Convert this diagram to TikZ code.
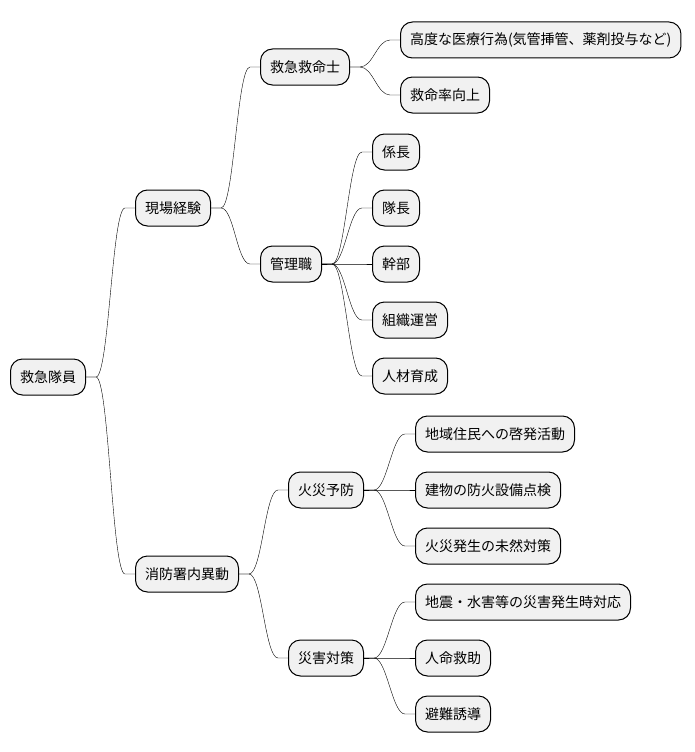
\documentclass[tikz,border=0pt]{standalone}
\usepackage{fontspec}
\setmainfont{Noto Sans CJK JP}
\usetikzlibrary{positioning}

\tikzset{
  mm/.style={draw, line width=1pt, fill={rgb,255:red,241;green,241;blue,241},
    rounded corners=12pt, minimum height=36pt, inner xsep=9.5pt, inner ysep=0pt,
    anchor=west, font=\fontsize{14pt}{16pt}\selectfont},
  link/.style={line width=1pt, to path={-- ++(10pt,0)
    .. controls +(13pt,0) and +(-13pt,0) .. ([xshift=-10pt]\tikztotarget)
    -- (\tikztotarget)}}
}

\begin{document}
\begin{tikzpicture}[x=1pt, y=-1pt]
  \useasboundingbox (0,0) rectangle (695,752);
  % 中心
  \node[mm] (r) at (10,377) {救急隊員};

  % 第一階層
  \node[mm] (k1) at (135,208) {現場経験};
  \node[mm] (k2) at (135,574) {消防署内異動};
  \draw (r.east) to[link] (k1.west);
  \draw (r.east) to[link] (k2.west);

  % 第二階層
  \node[mm] (m1) at (260,67) {救急救命士};
  \node[mm] (m2) at (260,264) {管理職};
  \node[mm] (m3) at (288,490) {火災予防};
  \node[mm] (m4) at (288,658) {災害対策};
  \draw (k1.east) to[link] (m1.west);
  \draw (k1.east) to[link] (m2.west);
  \draw (k2.east) to[link] (m3.west);
  \draw (k2.east) to[link] (m4.west);

  % 救急救命士の下
  \node[mm] (a1) at (400,40) {高度な医療行為(気管挿管、薬剤投与など)};
  \node[mm] (a2) at (400,95) {救命率向上};
  \draw (m1.east) to[link] (a1.west);
  \draw (m1.east) to[link] (a2.west);

  % 管理職の下
  \foreach \t [count=\i] in {係長,隊長,幹部,組織運営,人材育成} {
    \node[mm] (b\i) at (372, 96 + 56*\i) {\t};
    \draw (m2.east) to[link] (b\i.west);
  }

  % 火災予防の下
  \foreach \t [count=\i] in {地域住民への啓発活動,建物の防火設備点検,火災発生の未然対策} {
    \node[mm] (c\i) at (415, 378 + 56*\i) {\t};
    \draw (m3.east) to[link] (c\i.west);
  }

  % 災害対策の下
  \foreach \t [count=\i] in {地震・水害等の災害発生時対応,人命救助,避難誘導} {
    \node[mm] (d\i) at (415, 546 + 56*\i) {\t};
    \draw (m4.east) to[link] (d\i.west);
  }
\end{tikzpicture}
\end{document}
